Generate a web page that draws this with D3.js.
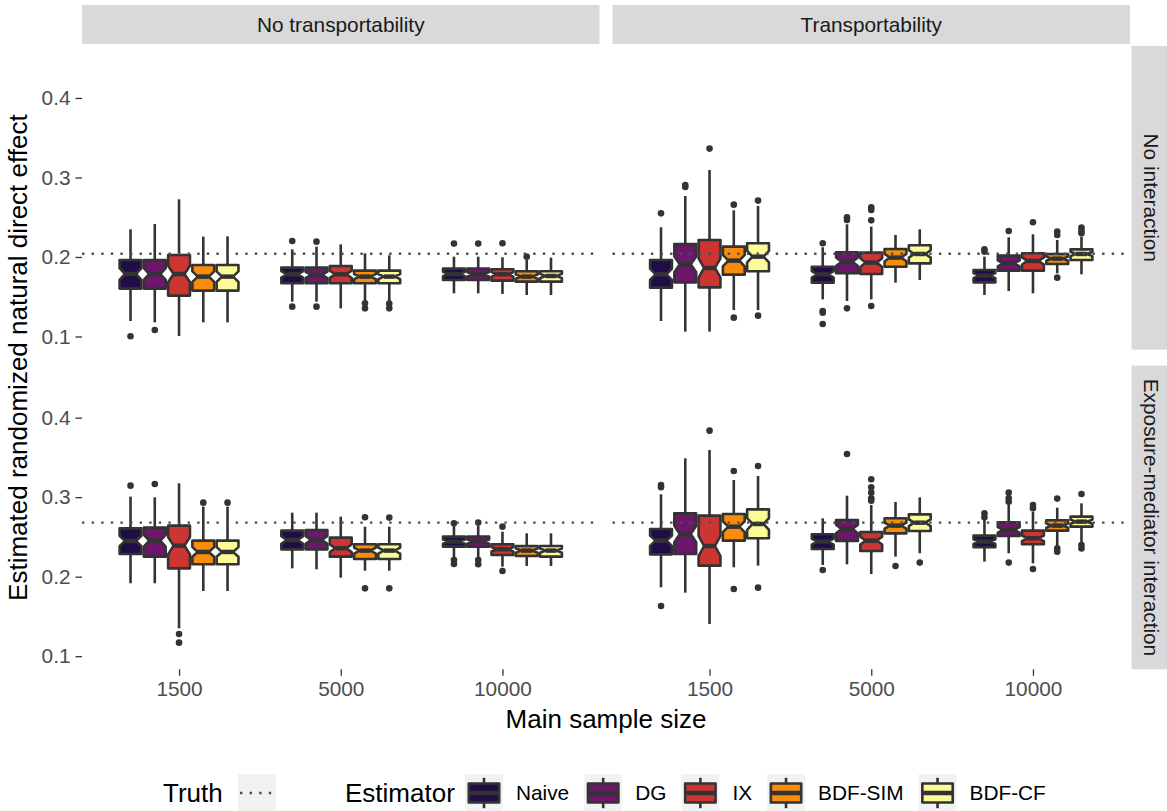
<!DOCTYPE html>
<html><head><meta charset="utf-8">
<script src="https://cdn.jsdelivr.net/npm/d3@7"></script>
<style>body{margin:0;background:#fff}svg{display:block}</style>
</head><body><svg id="chart" width="1167" height="811"></svg>
<script>
// ---------- data ----------
const estimators = ["Naive", "DG", "IX", "BDF-SIM", "BDF-CF"];
const estimatorColors = ["#200c46", "#6c176b", "#cd3533", "#f98c0a", "#fbfc98"];
const sampleSizes = ["1500", "5000", "10000"];
const transportLevels = ["No transportability", "Transportability"];
const interactionLevels = ["No interaction", "Exposure-mediator interaction"];
const truthValues = [0.204, 0.268];          // per interaction row
const yTicks = [0.1, 0.2, 0.3, 0.4];
const nReps = 60;                             // replicates used for notch width

// box stats rows: [lower whisker, q1, median, q3, upper whisker]; order = sample size x estimator
const boxesNoTransNoInt = [
  [0.1195, 0.1602, 0.1786, 0.1962, 0.2348], [0.1178, 0.1602, 0.1786, 0.1962, 0.2415], [0.1006, 0.1514, 0.1786, 0.2025, 0.2725], [0.1178, 0.1577, 0.1753, 0.1899, 0.2256], [0.1178, 0.1577, 0.1753, 0.1899, 0.2260],
  [0.1438, 0.1669, 0.1782, 0.1866, 0.2096], [0.1438, 0.1669, 0.1774, 0.1866, 0.2130], [0.1354, 0.1669, 0.1782, 0.1887, 0.2159], [0.1438, 0.1669, 0.1753, 0.1828, 0.2046], [0.1438, 0.1669, 0.1753, 0.1828, 0.2021],
  [0.1543, 0.1711, 0.1786, 0.1853, 0.2004], [0.1543, 0.1711, 0.1782, 0.1853, 0.2004], [0.1535, 0.1702, 0.1782, 0.1845, 0.1996], [0.1522, 0.1690, 0.1753, 0.1820, 0.1962], [0.1522, 0.1690, 0.1761, 0.1820, 0.1992]
];
const outliersNoTransNoInt = [
  [0.1002], [0.1082], [], [], [],
  [0.2201, 0.1375], [0.2193, 0.1375], [], [0.1417, 0.1354], [0.1413, 0.1354],
  [0.2168], [0.2168], [0.2172], [0.2004], []
];
const boxesTransNoInt = [
  [0.1195, 0.1614, 0.1782, 0.1962, 0.2373], [0.1061, 0.1681, 0.1908, 0.2164, 0.2767], [0.1061, 0.1618, 0.1862, 0.2214, 0.3094], [0.1333, 0.1778, 0.1954, 0.2130, 0.2587], [0.1333, 0.1820, 0.2004, 0.2172, 0.2642],
  [0.1467, 0.1677, 0.1782, 0.1878, 0.2122], [0.1447, 0.1795, 0.1941, 0.2059, 0.2411], [0.1467, 0.1786, 0.1929, 0.2055, 0.2382], [0.1677, 0.1878, 0.1992, 0.2101, 0.2277], [0.1711, 0.1920, 0.2038, 0.2147, 0.2348],
  [0.1522, 0.1681, 0.1765, 0.1836, 0.2004], [0.1572, 0.1828, 0.1920, 0.2017, 0.2247], [0.1543, 0.1828, 0.1950, 0.2046, 0.2285], [0.1795, 0.1912, 0.1979, 0.2038, 0.2214], [0.1782, 0.1962, 0.2038, 0.2096, 0.2256]
];
const outliersTransNoInt = [
  [0.2549], [0.2905, 0.2880], [0.3363], [0.2658, 0.1237], [0.2709, 0.1262],
  [0.2172, 0.1321, 0.1300, 0.1157], [0.2499, 0.2465, 0.1354], [0.2625, 0.2591, 0.2461, 0.1384], [], [],
  [0.2096, 0.2067], [0.2327], [0.2436], [0.2319, 0.2277, 0.1740], [0.2369, 0.2331, 0.2298]
];
const boxesNoTransInt = [
  [0.1917, 0.2286, 0.2449, 0.2608, 0.3007], [0.1917, 0.2252, 0.2453, 0.2617, 0.2998], [0.1351, 0.2105, 0.2390, 0.2642, 0.3174], [0.1820, 0.2156, 0.2311, 0.2453, 0.2881], [0.1820, 0.2156, 0.2311, 0.2453, 0.2881],
  [0.2105, 0.2344, 0.2462, 0.2579, 0.2805], [0.2093, 0.2344, 0.2462, 0.2587, 0.2805], [0.1988, 0.2252, 0.2357, 0.2491, 0.2755], [0.2076, 0.2223, 0.2328, 0.2407, 0.2629], [0.2076, 0.2223, 0.2328, 0.2407, 0.2629],
  [0.2231, 0.2378, 0.2441, 0.2504, 0.2642], [0.2231, 0.2378, 0.2441, 0.2504, 0.2642], [0.2126, 0.2273, 0.2344, 0.2407, 0.2566], [0.2135, 0.2261, 0.2328, 0.2386, 0.2545], [0.2135, 0.2252, 0.2328, 0.2386, 0.2545]
];
const outliersNoTransInt = [
  [0.3145], [0.3166], [0.1279, 0.1170], [0.2931], [0.2931],
  [], [], [], [0.2747, 0.1853], [0.2743, 0.1853],
  [0.2671, 0.2210, 0.2160], [0.2680, 0.2210, 0.2156], [0.2629, 0.2072], [], []
];
const boxesTransInt = [
  [0.1866, 0.2281, 0.2453, 0.2600, 0.3036], [0.1799, 0.2286, 0.2537, 0.2796, 0.3488], [0.1405, 0.2139, 0.2386, 0.2768, 0.3593], [0.2118, 0.2453, 0.2629, 0.2788, 0.3216], [0.2139, 0.2483, 0.2663, 0.2847, 0.3266],
  [0.2147, 0.2349, 0.2441, 0.2533, 0.2734], [0.2155, 0.2449, 0.2600, 0.2713, 0.3019], [0.2034, 0.2323, 0.2453, 0.2562, 0.2902], [0.2252, 0.2545, 0.2642, 0.2734, 0.2940], [0.2294, 0.2574, 0.2679, 0.2784, 0.2998],
  [0.2189, 0.2370, 0.2441, 0.2516, 0.2713], [0.2294, 0.2512, 0.2588, 0.2684, 0.2902], [0.2168, 0.2407, 0.2483, 0.2579, 0.2818], [0.2386, 0.2579, 0.2642, 0.2709, 0.2868], [0.2428, 0.2629, 0.2692, 0.2755, 0.2922]
];
const outliersTransInt = [
  [0.3153, 0.3124, 0.1631], [], [0.3837], [0.3330, 0.1845], [0.3392, 0.1862],
  [0.2084], [0.3543], [0.3225, 0.3124, 0.3057, 0.2985, 0.2956], [0.2135], [0.2177],
  [0.2797, 0.2746], [0.3057, 0.2985, 0.2943, 0.2177], [0.2902, 0.2860, 0.2097], [0.2982, 0.2356, 0.2315], [0.3040, 0.2398, 0.2356]
];

// ---------- layout ----------
const svg = d3.select("#chart");
const FONT = "'Liberation Sans', Arial, Helvetica, sans-serif";
const INK = "#333333";
const colX0 = [82, 612.5];
const panelW = 517.5;
const rowY = [[45.9, 349.6], [365.6, 669.3]];
const yDomain = [0.0835, 0.4655];
const stripFill = "#d9d9d9";

const panels = [
  {col: 0, row: 0, boxes: boxesNoTransNoInt, outl: outliersNoTransNoInt},
  {col: 1, row: 0, boxes: boxesTransNoInt, outl: outliersTransNoInt},
  {col: 0, row: 1, boxes: boxesNoTransInt, outl: outliersNoTransInt},
  {col: 1, row: 1, boxes: boxesTransInt, outl: outliersTransInt}
];

function boxGlyph(g, xc, bw, s, y, fill, notch) {
  const [lo, q1, med, q3, hi] = s;
  const xmin = xc - bw / 2, xmax = xc + bw / 2;
  const ind = notch ? bw / 4 : 0;
  const nd = notch ? 1.58 * (q3 - q1) / Math.sqrt(nReps) : 0;
  g.append("line").attr("x1", xc).attr("x2", xc).attr("y1", y(q3)).attr("y2", y(hi))
    .attr("stroke", INK).attr("stroke-width", 2.6);
  g.append("line").attr("x1", xc).attr("x2", xc).attr("y1", y(q1)).attr("y2", y(lo))
    .attr("stroke", INK).attr("stroke-width", 2.6);
  const p = d3.path();
  if (notch) {
    p.moveTo(xmin, y(q3)); p.lineTo(xmin, y(med + nd)); p.lineTo(xmin + ind, y(med));
    p.lineTo(xmin, y(med - nd)); p.lineTo(xmin, y(q1)); p.lineTo(xmax, y(q1));
    p.lineTo(xmax, y(med - nd)); p.lineTo(xmax - ind, y(med)); p.lineTo(xmax, y(med + nd));
    p.lineTo(xmax, y(q3)); p.closePath();
  } else {
    p.rect(xmin, y(q3), bw, y(q1) - y(q3));
  }
  g.append("path").attr("d", p.toString()).attr("fill", fill)
    .attr("stroke", INK).attr("stroke-width", 2.6).attr("stroke-linejoin", "round");
  g.append("line").attr("x1", xmin + ind).attr("x2", xmax - ind).attr("y1", y(med)).attr("y2", y(med))
    .attr("stroke", INK).attr("stroke-width", 4.5);
}

panels.forEach(P => {
  const x0 = colX0[P.col];
  const [yt, yb] = rowY[P.row];
  const x = d3.scalePoint().domain(sampleSizes).range([x0, x0 + panelW]).padding(0.6);
  const unit = x.step();
  const dodge = d3.scaleBand().domain(estimators).range([-0.375 * unit, 0.375 * unit])
    .paddingInner(0.1).paddingOuter(0.05);
  const y = d3.scaleLinear().domain(yDomain).range([yb, yt]);
  const g = svg.append("g");

  sampleSizes.forEach((ss, gi) => {
    estimators.forEach((est, ei) => {
      const k = gi * 5 + ei;
      const xc = x(ss) + dodge(est) + dodge.bandwidth() / 2;
      boxGlyph(g, xc, dodge.bandwidth(), P.boxes[k], y, estimatorColors[ei], true);
      g.selectAll(null).data(P.outl[k]).enter().append("circle")
        .attr("cx", xc).attr("cy", d => y(d)).attr("r", 3.3).attr("fill", INK);
    });
  });

  // truth line
  g.append("line").attr("x1", x0).attr("x2", x0 + panelW)
    .attr("y1", y(truthValues[P.row])).attr("y2", y(truthValues[P.row]))
    .attr("stroke", "#4d4d4d").attr("stroke-width", 2.4).attr("stroke-dasharray", "2.4 7.2");

  // y axis (left column only)
  if (P.col === 0) {
    const ax = svg.append("g").attr("transform", `translate(${x0},0)`)
      .call(d3.axisLeft(y).tickValues(yTicks).tickFormat(d3.format(".1f")).tickSize(6.5).tickPadding(5));
    ax.select(".domain").remove();
    ax.selectAll(".tick line").attr("stroke", INK).attr("stroke-width", 1.3);
    ax.selectAll(".tick text").attr("fill", "#4d4d4d").attr("font-size", "20.8px").attr("font-family", FONT);
  }
  // x axis (bottom row only)
  if (P.row === 1) {
    const ax = svg.append("g").attr("transform", `translate(0,${yb})`)
      .call(d3.axisBottom(x).tickSize(6.5).tickPadding(5));
    ax.select(".domain").remove();
    ax.selectAll(".tick line").attr("stroke", INK).attr("stroke-width", 1.3);
    ax.selectAll(".tick text").attr("fill", "#4d4d4d").attr("font-size", "20.8px").attr("font-family", FONT);
  }
});

// top strips
transportLevels.forEach((lab, i) => {
  const x0 = colX0[i];
  svg.append("rect").attr("x", x0).attr("y", 5).attr("width", panelW).attr("height", 39).attr("fill", stripFill);
  svg.append("text").attr("x", x0 + panelW / 2).attr("y", 24.5).attr("dy", "0.35em")
    .attr("text-anchor", "middle").attr("font-family", FONT).attr("font-size", "20.8px")
    .attr("fill", "#1a1a1a").text(lab);
});
// right strips
interactionLevels.forEach((lab, i) => {
  const [yt, yb] = rowY[i];
  const sx = colX0[1] + panelW + 1.5;
  svg.append("rect").attr("x", sx).attr("y", yt).attr("width", 39).attr("height", yb - yt).attr("fill", stripFill);
  svg.append("text").attr("transform", `translate(${sx + 19.5},${(yt + yb) / 2}) rotate(90)`)
    .attr("dy", "0.35em").attr("text-anchor", "middle").attr("font-family", FONT)
    .attr("font-size", "20.8px").attr("fill", "#1a1a1a").text(lab);
});

// axis titles
svg.append("text").attr("transform", `translate(27,${(rowY[0][0] + rowY[1][1]) / 2}) rotate(-90)`)
  .attr("text-anchor", "middle").attr("font-family", FONT).attr("font-size", "26px").attr("fill", "#000")
  .text("Estimated randomized natural direct effect");
svg.append("text").attr("x", (colX0[0] + colX0[1] + panelW) / 2).attr("y", 728)
  .attr("text-anchor", "middle").attr("font-family", FONT).attr("font-size", "26px").attr("fill", "#000")
  .text("Main sample size");

// legend
const LY = 774, KS = 38;
const leg = svg.append("g");
leg.append("text").attr("x", 163).attr("y", LY + KS / 2).attr("dy", "0.35em")
  .attr("font-family", FONT).attr("font-size", "26px").attr("fill", "#000").text("Truth");
leg.append("rect").attr("x", 238).attr("y", LY).attr("width", KS).attr("height", KS).attr("fill", "#f2f2f2");
leg.append("line").attr("x1", 238 + 2).attr("x2", 238 + KS).attr("y1", LY + KS / 2).attr("y2", LY + KS / 2)
  .attr("stroke", "#4d4d4d").attr("stroke-width", 2.4).attr("stroke-dasharray", "2.4 7.2");

leg.append("text").attr("x", 345).attr("y", LY + KS / 2).attr("dy", "0.35em")
  .attr("font-family", FONT).attr("font-size", "26px").attr("fill", "#000").text("Estimator");
let kx = 465;
const ky = d3.scaleLinear().domain([0, 1]).range([LY + KS, LY]);
estimators.forEach((est, i) => {
  leg.append("rect").attr("x", kx).attr("y", LY).attr("width", KS).attr("height", KS).attr("fill", "#f2f2f2");
  boxGlyph(leg, kx + KS / 2, KS * 0.8, [0.1, 0.25, 0.5, 0.75, 0.9], ky, estimatorColors[i], false);
  const t = leg.append("text").attr("x", kx + KS + 13).attr("y", LY + KS / 2).attr("dy", "0.35em")
    .attr("font-family", FONT).attr("font-size", "20.8px").attr("fill", "#000").text(est);
  kx = kx + KS + 13 + t.node().getComputedTextLength() + 15;
});
</script>
</body></html>
